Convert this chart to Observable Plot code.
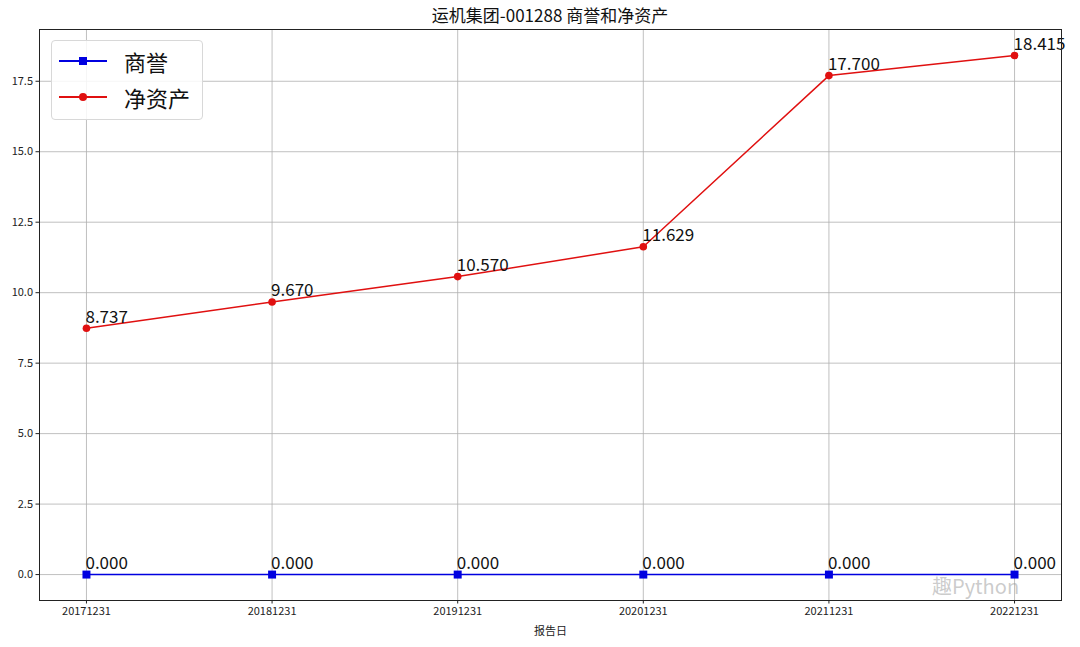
<!DOCTYPE html>
<html>
<head>
<meta charset="utf-8">
<script src="https://cdn.jsdelivr.net/npm/d3@7"></script>
<script src="https://cdn.jsdelivr.net/npm/@observablehq/plot@0.6"></script>
<style>
  body { margin: 0; background: #fff; font-family: "Noto Sans CJK SC", "Noto Sans", sans-serif; }
  #wrap { position: relative; width: 1080px; height: 647px; overflow: hidden; }
  #title { height: 24px; width: 1100px; text-align: center; font-size: 17px; line-height: 30px; color: #111; }
  #legend { position: absolute; left: 51px; top: 40px; width: 150px; height: 78px; border: 1px solid #d8d8d8; border-radius: 4px; background: rgba(255,255,255,0.85); }
  .row { position: absolute; left: 0; height: 36px; width: 150px; }
  .row .ln { position: absolute; left: 7px; top: 17px; width: 48px; height: 1.5px; }
  .row .mk { position: absolute; }
  .row .tx { position: absolute; left: 72px; top: 0; font-size: 22px; line-height: 36px; color: #111; }
  #wm { position: absolute; left: 932px; top: 572px; font-size: 20px; line-height: 28px; color: rgba(160,160,160,0.55); }
</style>
</head>
<body>
<div id="wrap">
  <div id="title">运机集团-001288 商誉和净资产</div>
  <div id="chart"></div>
  <div id="legend">
    <div class="row" style="top:2px">
      <div class="ln" style="background:#0000e0"></div>
      <div class="mk" style="left:27px;top:14px;width:8px;height:8px;background:#0000e0"></div>
      <div class="tx">商誉</div>
    </div>
    <div class="row" style="top:38px">
      <div class="ln" style="background:#e01010"></div>
      <div class="mk" style="left:27px;top:14px;width:8px;height:8px;border-radius:50%;background:#e01010"></div>
      <div class="tx">净资产</div>
    </div>
  </div>
  <div id="wm">趣Python</div>
</div>
<script>
const dates = ["20171231", "20181231", "20191231", "20201231", "20211231", "20221231"];
const goodwill = [0, 0, 0, 0, 0, 0];
const netAssets = [8.737, 9.670, 10.570, 11.629, 17.700, 18.415];
const yTicks = [0, 2.5, 5, 7.5, 10, 12.5, 15, 17.5];

const gw = dates.map((d, i) => ({date: d, value: goodwill[i]}));
const na = dates.map((d, i) => ({date: d, value: netAssets[i]}));

const blue = "#0000e0";
const red = "#e01010";

const chart = Plot.plot({
  width: 1080,
  height: 623,
  marginLeft: 39,
  marginRight: 19,
  marginTop: 5,
  marginBottom: 47,
  style: {fontFamily: "'Noto Sans CJK SC', 'Noto Sans', sans-serif", fontSize: "11px", color: "#222", background: "#fff"},
  x: {type: "point", domain: dates, padding: 0.253, round: false, label: null},
  y: {domain: [-0.92, 19.336], label: null},
  marks: [
    Plot.gridX(dates, {stroke: "#b0b0b0", strokeOpacity: 1, strokeWidth: 0.8}),
    Plot.gridY(yTicks, {stroke: "#b0b0b0", strokeOpacity: 1, strokeWidth: 0.8}),
    Plot.axisX({tickSize: 3.5, tickPadding: 3, fontSize: 11, label: "报告日", labelAnchor: "center", labelArrow: "none", labelOffset: 34}),
    Plot.axisY(yTicks, {tickSize: 3.5, tickPadding: 3, fontSize: 11, tickFormat: d => d.toFixed(1), label: null}),
    Plot.line(gw, {x: "date", y: "value", stroke: blue, strokeWidth: 1.5}),
    Plot.dot(gw, {x: "date", y: "value", symbol: "square", r: 4.5, fill: blue, stroke: "none"}),
    Plot.line(na, {x: "date", y: "value", stroke: red, strokeWidth: 1.5}),
    Plot.dot(na, {x: "date", y: "value", symbol: "circle", r: 3.8, fill: red, stroke: "none"}),
    Plot.text(gw, {x: "date", y: "value", text: d => d.value.toFixed(3), textAnchor: "start", lineAnchor: "middle", dx: -1, dy: -11, fontSize: 17, fill: "#111"}),
    Plot.text(na, {x: "date", y: "value", text: d => d.value.toFixed(3), textAnchor: "start", lineAnchor: "middle", dx: -1, dy: -11, fontSize: 17, fill: "#111"}),
    Plot.frame({stroke: "#222", strokeWidth: 1})
  ]
});
document.getElementById("chart").appendChild(chart);
</script>
</body>
</html>
